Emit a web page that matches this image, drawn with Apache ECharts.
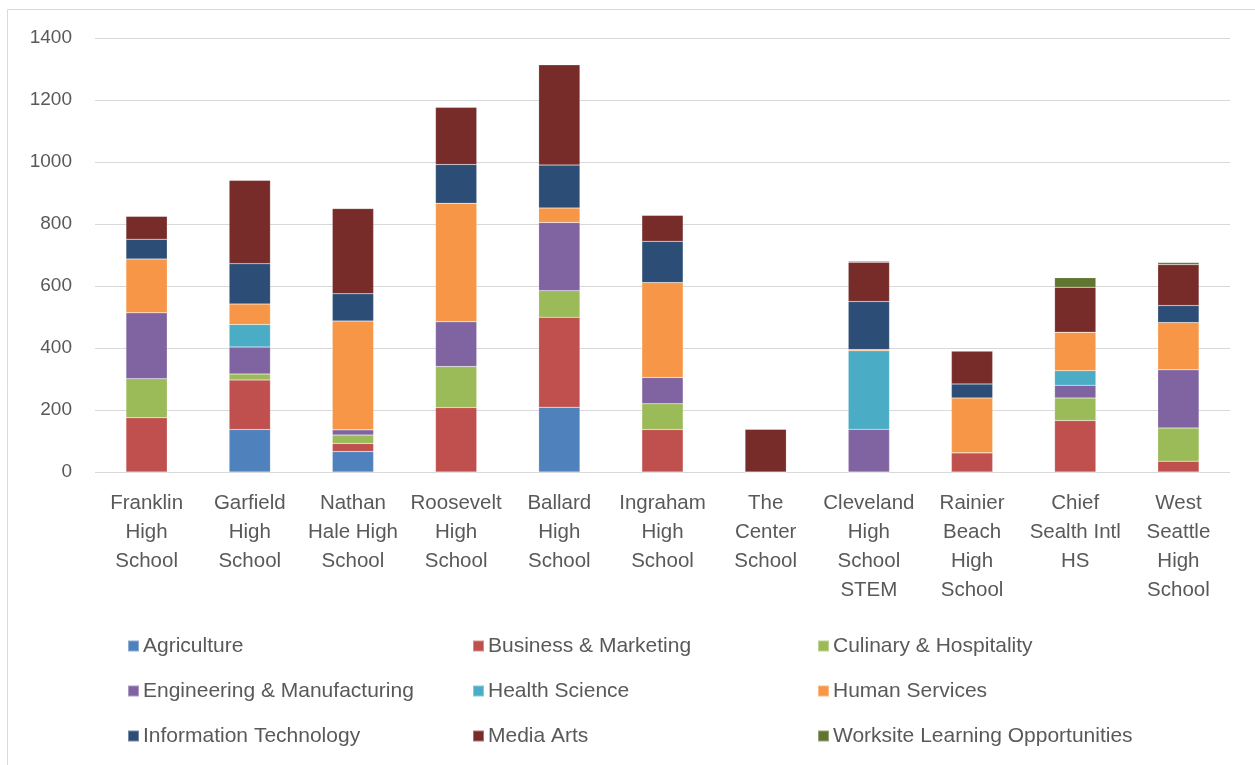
<!DOCTYPE html>
<html>
<head>
<meta charset="utf-8">
<script src="https://cdn.jsdelivr.net/npm/echarts@6/dist/echarts.min.js"></script>
<style>
html,body{margin:0;padding:0;background:#fff;}
#chart{width:1255px;height:765px;}
</style>
</head>
<body>
<div id="chart"></div>
<script>
const categories = ["Franklin\nHigh\nSchool","Garfield\nHigh\nSchool","Nathan\nHale High\nSchool","Roosevelt\nHigh\nSchool","Ballard\nHigh\nSchool","Ingraham\nHigh\nSchool","The\nCenter\nSchool","Cleveland\nHigh\nSchool\nSTEM","Rainier\nBeach\nHigh\nSchool","Chief\nSealth Intl\nHS","West\nSeattle\nHigh\nSchool"];
const agriculture    = [0,137,66,0,209,0,0,0,0,0,0];
const business       = [175,160,26,208,290,137,0,0,62,166,35];
const culinary       = [126,19,27,132,86,83,0,0,0,73,107];
const engineering    = [213,87,17,145,220,85,0,138,0,41,188];
const health         = [0,73,0,0,0,0,0,253,0,47,0];
const humanServices  = [173,66,351,382,47,306,0,4,177,124,152];
const infoTech       = [64,130,88,125,138,133,0,155,45,0,55];
const mediaArts      = [74,269,275,185,324,84,138,127,106,145,132];
const worksite       = [0,0,0,0,0,0,0,3,0,31,7];
const yTicks = [0,200,400,600,800,1000,1200,1400];

const seriesDefs = [
  ["Agriculture", agriculture, "#4F81BD"],
  ["Business & Marketing", business, "#C0504D"],
  ["Culinary & Hospitality", culinary, "#9BBB59"],
  ["Engineering & Manufacturing", engineering, "#8064A2"],
  ["Health Science", health, "#4BACC6"],
  ["Human Services", humanServices, "#F79646"],
  ["Information Technology", infoTech, "#2C4D75"],
  ["Media Arts", mediaArts, "#772C2A"],
  ["Worksite Learning Opportunities", worksite, "#5F7530"]
];

const chart = echarts.init(document.getElementById('chart'));
const font = "'Liberation Sans', Arial, sans-serif";
const legendBase = {
  orient: 'vertical', top: 630, itemWidth: 11, itemHeight: 11, itemGap: 23,
  icon: 'rect',
  textStyle: {fontFamily: font, fontSize: 21, color: '#595959', lineHeight: 22, padding:[0,0,0,-1]}
};
chart.setOption({
  animation: false,
  color: seriesDefs.map(s => s[2]),
  graphic: [{type:'rect', shape:{x:7.5,y:9.5,width:1260,height:770}, style:{fill:'none', stroke:'#d9d9d9', lineWidth:1}, silent:true}],
  grid: {left: 95, right: 25, top: 38, bottom: 293},
  legend: [
    Object.assign({left: 122, data: [seriesDefs[0][0], seriesDefs[3][0], seriesDefs[6][0]]}, legendBase),
    Object.assign({left: 467, data: [seriesDefs[1][0], seriesDefs[4][0], seriesDefs[7][0]]}, legendBase),
    Object.assign({left: 812, data: [seriesDefs[2][0], seriesDefs[5][0], seriesDefs[8][0]]}, legendBase)
  ],
  xAxis: {
    type: 'category', data: categories,
    axisLine: {show: false}, axisTick: {show: false},
    axisLabel: {fontFamily: font, fontSize: 20.5, color: '#595959', lineHeight: 29, margin: 17, interval: 0, verticalAlign: 'top'}
  },
  yAxis: {
    type: 'value', min: yTicks[0], max: yTicks[yTicks.length-1], interval: 200,
    axisLine: {show: false}, axisTick: {show: false},
    splitLine: {lineStyle: {color: '#d9d9d9', width: 1}},
    axisLabel: {fontFamily: font, fontSize: 19, color: '#595959', margin: 23, formatter: v => String(v)}
  },
  series: seriesDefs.map(s => ({
    name: s[0], type: 'bar', stack: 'total', data: s[1], barWidth: '40%',
    itemStyle: {color: s[2], borderColor: 'rgba(255,255,255,0.35)', borderWidth: 0.5}
  }))
});
</script>
</body>
</html>
